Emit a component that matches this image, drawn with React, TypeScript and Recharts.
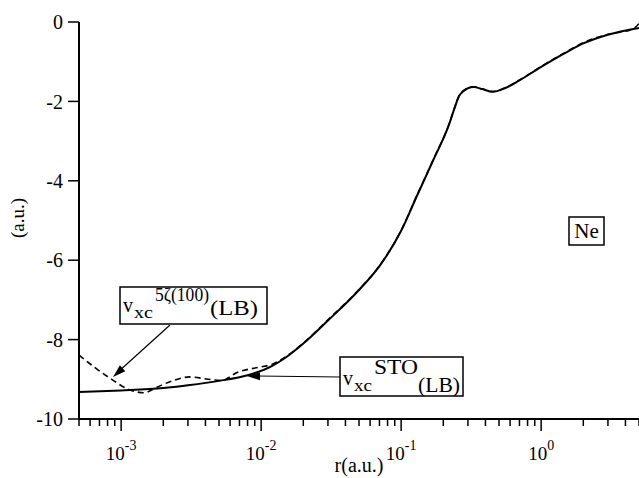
import React from "react";
import { LineChart, Line, XAxis, YAxis } from "recharts";

// v_xc^STO(LB), solid
const rSto = [0.0005, 0.001, 0.002, 0.003, 0.005, 0.008, 0.012, 0.015, 0.02, 0.03, 0.05, 0.07, 0.1, 0.13, 0.17, 0.22, 0.24, 0.26, 0.28, 0.3, 0.33, 0.38, 0.45, 0.55, 0.7, 1.0, 1.5, 2, 3, 5];
const vSto = [-9.32, -9.28, -9.22, -9.15, -9.04, -8.9, -8.66, -8.45, -8.1, -7.52, -6.75, -6.15, -5.26, -4.37, -3.47, -2.58, -2.18, -1.86, -1.74, -1.67, -1.64, -1.69, -1.76, -1.67, -1.47, -1.13, -0.77, -0.54, -0.32, -0.15];

// v_xc^5zeta(100)(LB), dashed
const r5z = [0.0005, 0.00083, 0.00116, 0.00146, 0.0018, 0.0024, 0.0031, 0.0042, 0.0052, 0.0068, 0.0095, 0.012, 0.015, 0.02, 0.03, 0.05, 0.07, 0.1, 0.13, 0.17, 0.22, 0.24, 0.26, 0.28, 0.3, 0.33, 0.38, 0.45, 0.55, 0.7, 1.0, 1.5, 2, 3, 4.5, 5];
const v5z = [-8.39, -8.97, -9.27, -9.34, -9.2, -9.02, -8.94, -9.0, -9.03, -8.82, -8.7, -8.62, -8.43, -8.09, -7.5, -6.74, -6.14, -5.25, -4.36, -3.46, -2.57, -2.17, -1.85, -1.72, -1.66, -1.63, -1.69, -1.75, -1.66, -1.46, -1.12, -0.76, -0.52, -0.31, -0.18, -0.04];

const xTicks = [
  0.0005, 0.0006, 0.0007, 0.0008, 0.0009,
  0.001, 0.002, 0.003, 0.004, 0.005, 0.006, 0.007, 0.008, 0.009,
  0.01, 0.02, 0.03, 0.04, 0.05, 0.06, 0.07, 0.08, 0.09,
  0.1, 0.2, 0.3, 0.4, 0.5, 0.6, 0.7, 0.8, 0.9,
  1, 2, 3, 4, 5,
];
const xDecades = [0.001, 0.01, 0.1, 1];
const xExponents = ["-3", "-2", "-1", "0"];
const yTicks = [0, -2, -4, -6, -8, -10];

const stoData = rSto.map((r, i) => ({ r, v: vSto[i] }));
const zetaData = r5z.map((r, i) => ({ r, v: v5z[i] }));

const FONT = "Liberation Serif, Times New Roman, serif";

function XTick(props: any) {
  const { x, y, payload } = props;
  const idx = xDecades.findIndex((d) => Math.abs(d - payload.value) < d * 1e-6);
  const major = idx >= 0;
  return (
    <g>
      <line x1={x} y1={y} x2={x} y2={y + (major ? 12 : 7)} stroke="#000" strokeWidth={1.5} />
      {major && (
        <text x={x} y={y + 41} fontFamily={FONT} fill="#000" textAnchor="middle">
          <tspan fontSize={19}>10</tspan>
          <tspan fontSize={14} dy={-10}>{xExponents[idx]}</tspan>
        </text>
      )}
    </g>
  );
}

function arrowHead(x1: number, y1: number, x2: number, y2: number, len = 13, half = 4) {
  const a = Math.atan2(y2 - y1, x2 - x1);
  const bx = x2 - len * Math.cos(a);
  const by = y2 - len * Math.sin(a);
  const px = -Math.sin(a) * half;
  const py = Math.cos(a) * half;
  return `${x2},${y2} ${bx + px},${by + py} ${bx - px},${by - py}`;
}

function Annotations() {
  return (
    <svg
      width={639}
      height={478}
      style={{ position: "absolute", left: 0, top: 0, pointerEvents: "none" }}
      fontFamily={FONT}
    >
      {/* axis titles */}
      <text x={17} y={218} fontSize={19} textAnchor="middle" dominantBaseline="central" transform="rotate(-90 17 218)">
        (a.u.)
      </text>
      <text x={359} y={472} fontSize={20} textAnchor="middle">r(a.u.)</text>

      {/* 5 zeta label */}
      <rect x={120} y={287} width={147} height={37} fill="#fff" stroke="#000" strokeWidth={1.5} />
      <text x={123} y={312} fontSize={22} textLength={10} lengthAdjust="spacingAndGlyphs">v</text>
      <text x={134} y={318} fontSize={17} textLength={19} lengthAdjust="spacingAndGlyphs">xc</text>
      <text x={155} y={301} fontSize={18} textLength={54} lengthAdjust="spacingAndGlyphs">5ζ(100)</text>
      <text x={210} y={315} fontSize={22} textLength={48} lengthAdjust="spacingAndGlyphs">(LB)</text>
      <line x1={170} y1={325} x2={118} y2={372} stroke="#000" strokeWidth={1.2} />
      <polygon points={arrowHead(170, 325, 113, 377)} fill="#000" />

      {/* STO label */}
      <rect x={340} y={357} width={123} height={39} fill="#fff" stroke="#000" strokeWidth={1.5} />
      <text x={343} y={385} fontSize={22} textLength={10} lengthAdjust="spacingAndGlyphs">v</text>
      <text x={354} y={391} fontSize={17} textLength={18} lengthAdjust="spacingAndGlyphs">xc</text>
      <text x={374} y={374} fontSize={20} textLength={44} lengthAdjust="spacingAndGlyphs">STO</text>
      <text x={418} y={392} fontSize={22} textLength={42} lengthAdjust="spacingAndGlyphs">(LB)</text>
      <line x1={340} y1={377} x2={258} y2={376} stroke="#000" strokeWidth={1.2} />
      <polygon points={arrowHead(340, 377, 247, 376)} fill="#000" />

      {/* element */}
      <rect x={569} y={217} width={35} height={28} fill="#fff" stroke="#000" strokeWidth={1.5} />
      <text x={586.5} y={238} fontSize={21} textAnchor="middle">Ne</text>
    </svg>
  );
}

export default function App() {
  return (
    <div style={{ position: "absolute", left: 0, top: 0, width: 639, height: 478, background: "#fff" }}>
      <LineChart width={639} height={478} margin={{ top: 22, right: 0, bottom: 0, left: 0 }}>
        <XAxis
          dataKey="r"
          type="number"
          scale="log"
          domain={[0.0005, 5]}
          allowDataOverflow
          ticks={xTicks}
          interval={0}
          tick={<XTick />}
          tickLine={false}
          tickSize={0}
          tickMargin={0}
          height={59}
          axisLine={{ stroke: "#000", strokeWidth: 2 }}
        />
        <YAxis
          type="number"
          domain={[-10, 0]}
          ticks={yTicks}
          interval={0}
          width={79}
          tickSize={11}
          tickMargin={5}
          tickLine={{ stroke: "#000", strokeWidth: 1.5 }}
          axisLine={{ stroke: "#000", strokeWidth: 2 }}
          tick={{ fill: "#000", fontSize: 20, fontFamily: FONT }}
        />
        <Line
          data={stoData}
          dataKey="v"
          type="monotone"
          stroke="#000"
          strokeWidth={2}
          dot={false}
          isAnimationActive={false}
        />
        <Line
          data={zetaData}
          dataKey="v"
          type="monotone"
          stroke="#000"
          strokeWidth={1.6}
          strokeDasharray="6 4"
          dot={false}
          isAnimationActive={false}
        />
      </LineChart>
      <Annotations />
    </div>
  );
}
